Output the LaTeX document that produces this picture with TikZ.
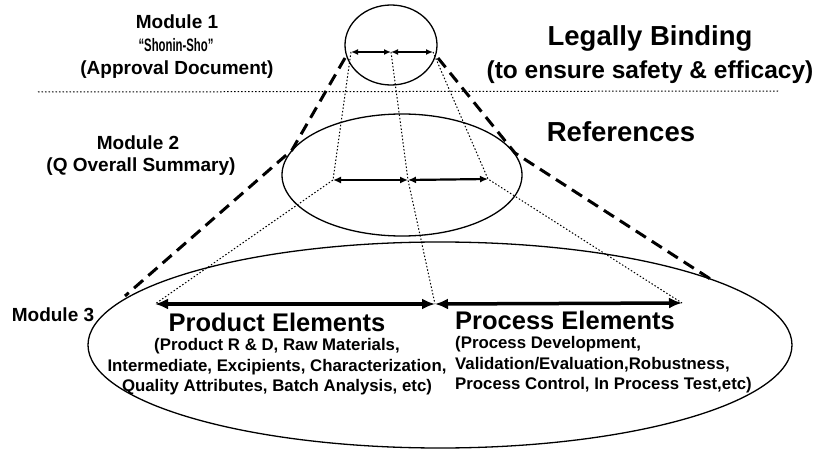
\documentclass[tikz,border=0pt]{standalone}
\usepackage{fontspec}
\setmainfont{Liberation Sans}
\usetikzlibrary{arrows.meta,shapes.geometric}
\begin{document}
\begin{tikzpicture}[x=1pt,y=-1pt,
  modell/.style={draw, ellipse, line width=1.3pt, inner sep=0pt},
  lbl/.style={inner sep=0pt, anchor=center},
  fmod/.style={font=\bfseries\fontsize{19}{22}\selectfont},
  fsub/.style={font=\bfseries\fontsize{19}{22}\selectfont},
  fbig/.style={font=\bfseries\fontsize{27.5}{32}\selectfont},
  felem/.style={font=\bfseries\fontsize{25.5}{30}\selectfont},
  fsmall/.style={font=\bfseries\fontsize{16.8}{20.5}\selectfont},
  arrA/.style={line width=2pt, {Latex[length=7pt,width=6pt]}-{Latex[length=7pt,width=6pt]}},
  arrB/.style={line width=2.2pt, {Latex[length=8pt,width=7pt]}-{Latex[length=8pt,width=7pt]}},
  arrC/.style={line width=3.5pt, {Latex[length=13pt,width=11pt]}-{Latex[length=13pt,width=11pt]}},
  dotl/.style={line width=1pt, dash pattern=on 1.5pt off 2pt},
  dashl/.style={line width=3pt, dash pattern=on 12pt off 7pt, line join=round},
]
\useasboundingbox (0,0) rectangle (820,452);

% ellipses
\node[modell, minimum width=704pt, minimum height=206pt] (m3) at (440,345) {};
\node[modell, minimum width=240pt, minimum height=122pt] (m2) at (402,175) {};
\node[modell, minimum width=92pt, minimum height=80pt] (m1) at (391,45) {};

% separator
\coordinate (s1) at (38,92);
\coordinate (s2) at (778,91);
\draw[dotl] (s1) -- (s2);

% arrow end points
\coordinate (a1l) at (351,52);
\coordinate (a1m) at (391,52);
\coordinate (a1r) at (433,52);
\coordinate (a2l) at (333,180);
\coordinate (a2m) at (408,180);
\coordinate (a2r) at (488,179);
\coordinate (a3l) at (155,304);
\coordinate (a3m) at (435,304);
\coordinate (a3r) at (682,303);

% dotted projection lines
\draw[dotl] (a1l) -- (a2l) -- (a3l);
\draw[dotl] (a1m) -- (a2m) -- (a3m);
\draw[dotl] (a1r) -- (a2r) -- (a3r);

% dashed cone lines
\coordinate (d1) at (345,58);
\coordinate (k1) at (292,150);
\coordinate (d2) at (125,296);
\coordinate (d3) at (438,58);
\coordinate (k2) at (515,153);
\coordinate (d4) at (712,280);
\draw[dashl] (d1) -- (k1) -- (d2);
\draw[dashl] (d3) -- (k2) -- (d4);

% arrows
\draw[arrA] (a1l) -- (a1m);
\draw[arrA] (a1m) -- (a1r);
\draw[arrB] (a2l) -- (a2m);
\draw[arrB] (a2m) -- (a2r);
\draw[arrC] (a3l) -- (a3m);
\draw[arrC] (a3m) -- (a3r);

% texts
\node[lbl, fmod] (t1) at (177,22) {Module 1};
\node[lbl, font=\bfseries\fontsize{18}{22}\selectfont, xscale=0.63, transform shape] (t1b) at (176,45) {“Shonin-Sho”};
\node[lbl, fsub] (t1c) at (177,70) {(Approval Document)};
\node[lbl, fbig] (lb) at (650,38) {Legally Binding};
\node[lbl, font=\bfseries\fontsize{24.5}{28}\selectfont] (lb2) at (650,72) {(to ensure safety \& efficacy)};
\node[lbl, fmod] (t2) at (138,143) {Module 2};
\node[lbl, fsub] (t2b) at (141,167) {(Q Overall Summary)};
\node[lbl, fbig] (ref) at (621,132) {References};
\node[lbl, fmod] (t3) at (53,315) {Module 3};
\node[lbl, felem] (pe) at (277,322) {Product Elements};
\node[lbl, fsmall, align=center] (pes) at (277,367) {(Product R \& D, Raw Materials,\\Intermediate, Excipients, Characterization,\\Quality Attributes, Batch Analysis, etc)};
\node[lbl, felem, anchor=west] (pr) at (455,320) {Process Elements};
\node[lbl, fsmall, align=left, anchor=west] (prs) at (455,365) {(Process Development,\\Validation/Evaluation,Robustness,\\Process Control, In Process Test,etc)};
\end{tikzpicture}
\end{document}
